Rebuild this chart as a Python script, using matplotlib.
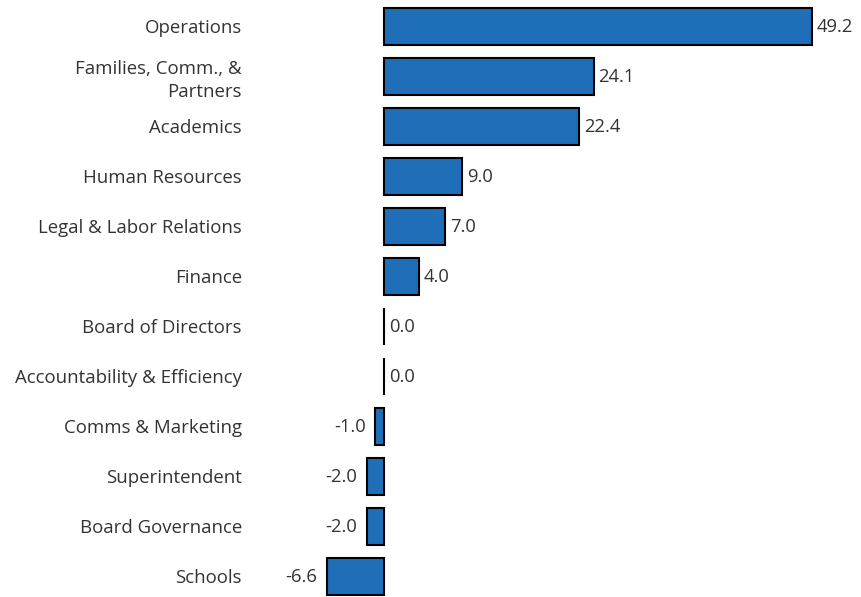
import matplotlib.pyplot as plt

# categories and values (top to bottom)
categories = [
    "Operations", "Families, Comm., &\nPartners", "Academics", "Human Resources",
    "Legal & Labor Relations", "Finance", "Board of Directors",
    "Accountability & Efficiency", "Comms & Marketing", "Superintendent",
    "Board Governance", "Schools",
]
values = [49.2, 24.1, 22.4, 9.0, 7.0, 4.0, 0.0, 0.0, -1.0, -2.0, -2.0, -6.6]

plt.rcParams['font.family'] = ['Open Sans', 'DejaVu Sans']

fig = plt.figure(figsize=(8.62, 5.97), dpi=100)
ax = fig.add_axes([0.30, 0.0, 0.70, 1.0])

y = list(range(len(categories)))
ax.barh(y, values, height=0.74, color='#1f6fb8', edgecolor='black', linewidth=1.5)

for yi, v in zip(y, values):
    if v >= 0:
        ax.annotate(f"{v:.1f}", (v, yi), xytext=(3.5, -0.5), textcoords='offset points',
                    va='center', ha='left', fontsize=13.2, color='#333333')
    else:
        ax.annotate(f"{v:.1f}", (v, yi), xytext=(-6.5, -0.5), textcoords='offset points',
                    va='center', ha='right', fontsize=13.2, color='#333333')

ax.set_yticks(y)
ax.set_yticklabels(categories, fontsize=13.4, color='#333333', linespacing=1.35)
ax.tick_params(axis='y', length=0, pad=12)
ax.set_xlim(-14.41, 54.96)
ax.set_ylim(11.42, -0.52)
ax.set_xticks([])
for s in ax.spines.values():
    s.set_visible(False)

fig.savefig('out.png', dpi=100)
